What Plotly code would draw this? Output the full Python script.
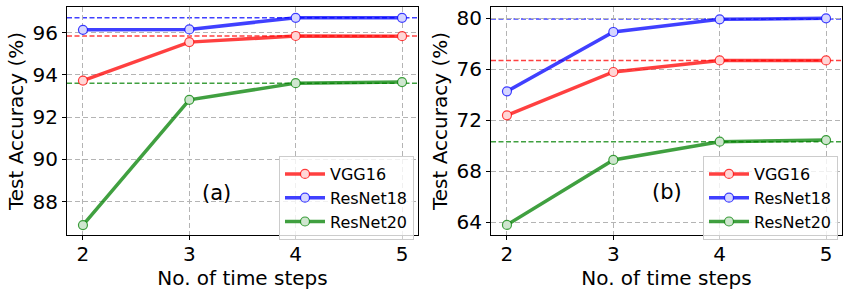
import plotly.graph_objects as go

steps = [2, 3, 4, 5]
models = ["VGG16", "ResNet18", "ResNet20"]

# panel (a)
a_vgg16 = [93.73, 95.55, 95.84, 95.83]
a_resnet18 = [96.13, 96.15, 96.70, 96.70]
a_resnet20 = [86.90, 92.82, 93.61, 93.66]
a_baseline = [95.84, 96.70, 93.60]

# panel (b)
b_vgg16 = [72.39, 75.79, 76.70, 76.70]
b_resnet18 = [74.27, 78.93, 79.92, 80.00]
b_resnet20 = [63.79, 68.89, 70.32, 70.45]
b_baseline = [76.70, 79.94, 70.32]

a_yticks = [88, 90, 92, 94, 96]
b_yticks = [64, 68, 72, 76, 80]

line_colors = ["rgba(255,0,0,0.75)", "rgba(0,0,255,0.75)", "rgba(0,128,0,0.75)"]
face_colors = ["#ffd6d6", "#d6d6ff", "#cfe6cf"]
base_colors = ["rgba(255,0,0,0.75)", "rgba(0,0,255,0.75)", "rgba(0,128,0,0.75)"]

FONT = "DejaVu Sans"
fig = go.Figure()

W, H = 847, 293
L, R, T, B = 67, 5, 7, 58
pw = W - L - R
ph = H - T - B
dom_a = [0, (418 - L) / pw]
dom_b = [(491 - L) / pw, 1]

panels = [
    ("x", "y", [a_vgg16, a_resnet18, a_resnet20], a_baseline, "legend"),
    ("x2", "y2", [b_vgg16, b_resnet18, b_resnet20], b_baseline, "legend2"),
]

for xa, ya, series, base, leg in panels:
    for i, (name, vals) in enumerate(zip(models, series)):
        fig.add_trace(go.Scatter(
            x=steps, y=vals, name=name, mode="lines+markers",
            xaxis=xa, yaxis=ya, legend=leg,
            line=dict(color=line_colors[i], width=3.5),
            marker=dict(symbol="circle", size=9, color=face_colors[i],
                        line=dict(color=line_colors[i], width=1.2)),
        ))
    for i, v in enumerate(base):
        fig.add_shape(type="line", xref=xa + " domain", yref=ya,
                      x0=0, x1=1, y0=v, y1=v, layer="below",
                      line=dict(color=base_colors[i], width=1.5, dash="5px,2.5px"))

axis_common = dict(
    showline=True, linecolor="black", linewidth=1, mirror=True,
    showgrid=True, gridcolor="#b4b4b4", griddash="5px,3px", gridwidth=1.2,
    ticks="outside", ticklen=4, tickcolor="black",
    tickfont=dict(family=FONT, size=20, color="black"),
    zeroline=False,
)
xtitle = dict(text="No. of time steps", font=dict(family=FONT, size=20, color="black"), standoff=3)
ytitle = dict(text="Test Accuracy (%)", font=dict(family=FONT, size=20, color="black"), standoff=3)

legend_common = dict(
    xanchor="right", yanchor="top",
    bgcolor="rgba(255,255,255,0.8)", bordercolor="#cccccc", borderwidth=1,
    font=dict(family=FONT, size=16, color="black"), tracegroupgap=0, itemwidth=40,
)

fig.update_layout(
    width=W, height=H,
    margin=dict(l=L, r=R, t=T, b=B, autoexpand=False),
    plot_bgcolor="white", paper_bgcolor="white",
    font=dict(family=FONT, color="black"),
    xaxis=dict(domain=dom_a, range=[1.85, 5.15], tickvals=steps, anchor="y",
               title=xtitle, ticklabelstandoff=-3, **axis_common),
    yaxis=dict(range=[86.43, 97.21], tickvals=a_yticks, anchor="x",
               title=ytitle, **axis_common),
    xaxis2=dict(domain=dom_b, range=[1.85, 5.15], tickvals=steps, anchor="y2",
                title=xtitle, ticklabelstandoff=-3, **axis_common),
    yaxis2=dict(range=[63.0, 80.89], tickvals=b_yticks, anchor="x2",
                title=ytitle, **axis_common),
    legend=dict(x=(414 - L) / pw, y=1 - (156 - T) / ph, **legend_common),
    legend2=dict(x=(838 - L) / pw, y=1 - (156 - T) / ph, **legend_common),
    annotations=[
        dict(text="(a)", x=3.255, y=88.41, xref="x", yref="y", showarrow=False,
             font=dict(family=FONT, size=21, color="black")),
        dict(text="(b)", x=3.5, y=66.38, xref="x2", yref="y2", showarrow=False,
             font=dict(family=FONT, size=21, color="black")),
    ],
)

fig.write_html(
    "out.html",
    config={"displayModeBar": False},
    post_script="document.body.style.margin='0';document.body.style.padding='0';",
)
